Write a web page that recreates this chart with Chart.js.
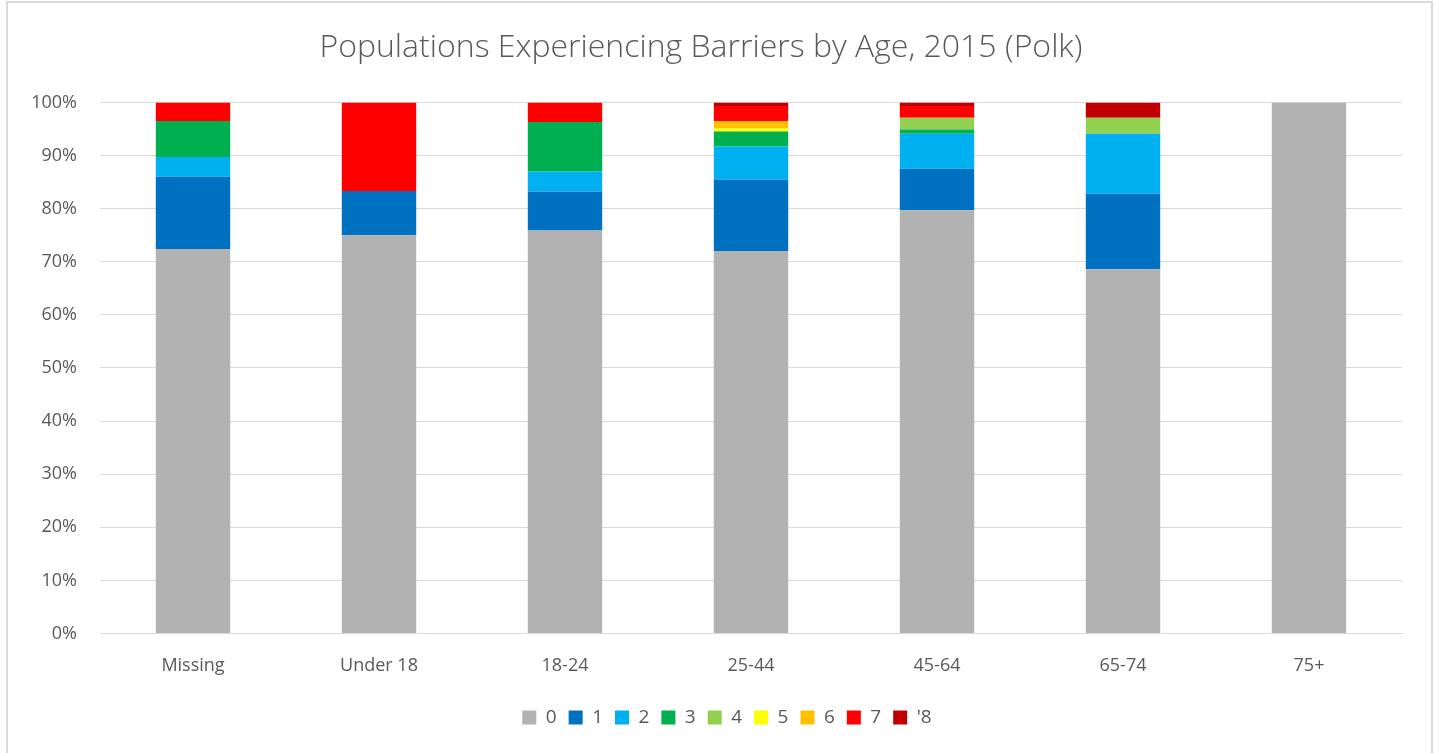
<!DOCTYPE html>
<html>
<head>
<meta charset="utf-8">
<script src="https://cdn.jsdelivr.net/npm/chart.js@4"></script>
<style>
  body { margin: 0; background: #fff; }
  #wrap { position: relative; width: 1440px; height: 753px; }
  #frame { position: absolute; left: 6px; top: 1px; width: 1423px; height: 760px; border: 2px solid #d9d9d9; pointer-events: none; }
  canvas { position: absolute; left: 0; top: 0; }
</style>
</head>
<body>
<div id="wrap">
  <canvas id="myChart" width="1440" height="753"></canvas>
  <div id="frame"></div>
</div>
<script>
const ctx = document.getElementById('myChart');

// age groups on the x axis
const ageGroups = ['Missing', 'Under 18', '18-24', '25-44', '45-64', '65-74', '75+'];

// share (%) of each age group by number of barriers
const barriers0 = [72.4, 75.0, 75.9, 72.0, 79.7, 68.6, 100];
const barriers1 = [13.6, 8.3, 7.3, 13.5, 7.8, 14.2, 0];
const barriers2 = [3.7, 0, 3.8, 6.2, 6.6, 11.3, 0];
const barriers3 = [6.8, 0, 9.3, 2.8, 0.8, 0, 0];
const barriers4 = [0, 0, 0, 0, 2.2, 3.0, 0];
const barriers5 = [0, 0, 0, 0.6, 0, 0, 0];
const barriers6 = [0, 0, 0, 1.4, 0, 0, 0];
const barriers7 = [3.5, 16.7, 3.7, 2.8, 2.2, 0, 0];
const barriers8 = [0, 0, 0, 0.7, 0.7, 2.9, 0];

const seriesNames = ['0', '1', '2', '3', '4', '5', '6', '7', "'8"];
const seriesData = [barriers0, barriers1, barriers2, barriers3, barriers4, barriers5, barriers6, barriers7, barriers8];
const seriesColors = ['#b2b2b2', '#0070c0', '#00b0f0', '#00b050', '#92d050', '#ffff00', '#ffc000', '#ff0000', '#c00000'];

const textColor = '#595959';
const gridColor = '#d9d9d9';
const font = "'Open Sans', 'Noto Sans', sans-serif";

let datasets = seriesNames.map((name, i) => ({
    label: name,
    data: seriesData[i],
    backgroundColor: seriesColors[i],
    borderWidth: 0,
    barPercentage: 0.4,
    categoryPercentage: 1.0
}));

// nudge the legend to the right, where Excel put it
const legendShift = {
    id: 'legendShift',
    afterLayout(chart) {
        chart.legend.left += 26;
        chart.legend.right += 26;
    }
};

const myChart = new Chart(ctx, {
    type: 'bar',
    data: { labels: ageGroups, datasets: datasets },
    plugins: [legendShift],
    options: {
        responsive: false,
        animation: false,
        layout: { padding: { left: 0, right: 38, top: 0, bottom: 16 } },
        plugins: {
            title: {
                display: true,
                text: 'Populations Experiencing Barriers by Age, 2015 (Polk)',
                color: textColor,
                font: { family: font, size: 32, weight: 300 },
                padding: { top: 29, bottom: 35 }
            },
            legend: {
                position: 'bottom',
                labels: {
                    color: textColor,
                    font: { family: font, size: 19 },
                    boxWidth: 14,
                    boxHeight: 14,
                    padding: 12
                }
            },
            tooltip: { enabled: false }
        },
        scales: {
            x: {
                stacked: true,
                grid: { display: false },
                border: { display: true, color: gridColor, width: 1 },
                ticks: { color: textColor, font: { family: font, size: 18 }, padding: 14 },
                afterFit: function(scale) { scale.height = 62.5; }
            },
            y: {
                stacked: true,
                min: 0,
                max: 100,
                grid: { color: gridColor, lineWidth: 1, drawTicks: false },
                border: { display: false },
                ticks: {
                    stepSize: 10,
                    color: textColor,
                    font: { family: font, size: 18 },
                    padding: 23,
                    callback: v => v + '%'
                },
                afterFit: function(scale) { scale.width = 100; }
            }
        }
    }
});
</script>
</body>
</html>
